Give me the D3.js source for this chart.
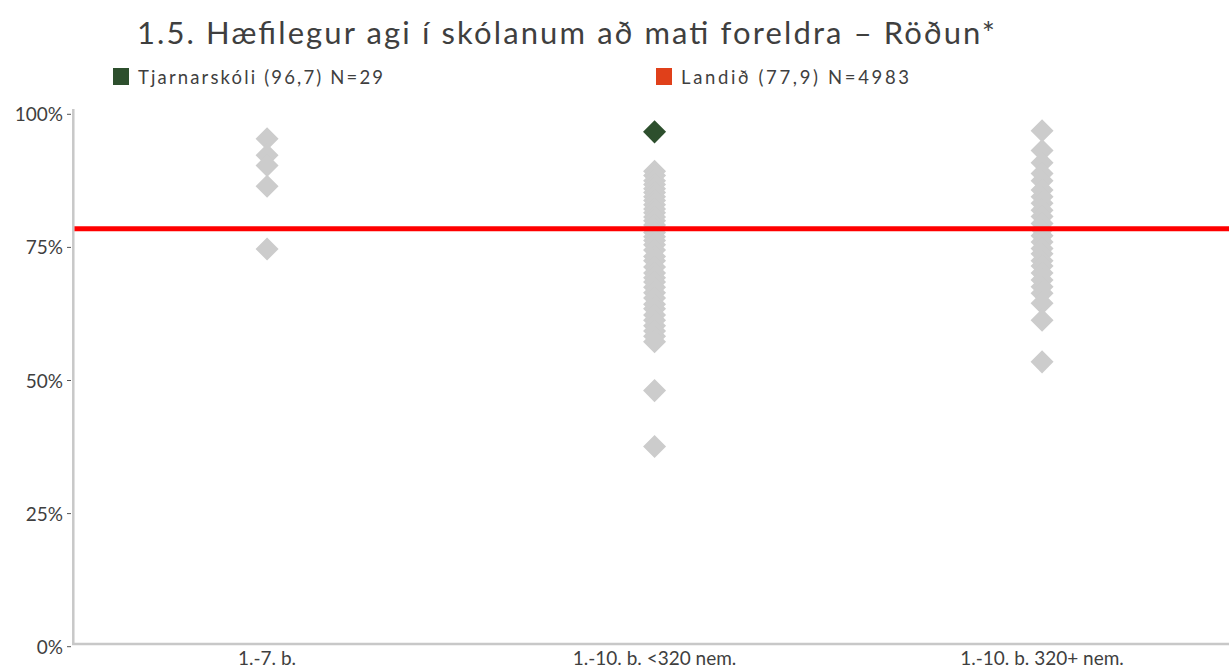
<html>
<head>
<meta charset="utf-8">
<title>1.5 Hæfilegur agi</title>
<script src="https://d3js.org/d3.v7.min.js"></script>
<style>
  body { margin: 0; background: white; }
  text { font-family: Lato, "Open Sans", sans-serif; fill: #3f3f3f; }
  .title { font-size: 31px; }
  .legend text { font-size: 18.5px; }
  .tick-label { font-size: 19px; }
  .cat-label { font-size: 19px; }
</style>
</head>
<body>
<svg id="chart" width="1229" height="670"></svg>
<script>
  // data
  const categories = ["1.-7. b.", "1.-10. b. <320 nem.", "1.-10. b. 320+ nem."];
  const schools17 = [95.4, 92.3, 90.4, 86.5, 74.7];
  const schoolsSmall = [89.3, 88.5, 87.5, 86.8, 86, 85.3, 84.5, 83.8, 83, 82.2, 81.5, 80.7, 80,
    79.2, 78.6, 77.8, 77, 76.3, 75.5, 74.5, 73.3, 72.5, 71.3, 70.2, 69.3, 68.5, 67.5, 66.5,
    65.5, 64.3, 63.5, 62.3, 61.3, 60.3, 59.3, 58.3, 57.3, 48.1, 37.6];
  const schoolsLarge = [96.9, 93.2, 90.9, 88.9, 87.5, 85.8, 84.5, 83.3, 82, 80.8, 79.5, 78.3,
    77.2, 76, 74.8, 73.8, 72.5, 71.5, 70.2, 68.9, 67.6, 66.4, 64.5, 61.3, 53.5];
  const schoolName = "Tjarnarskóli (96,7) N=29";
  const schoolCategory = "1.-10. b. <320 nem.";
  const schoolValue = 96.7;
  const countryName = "Landið (77,9) N=4983";
  const countryLine = 78.5;
  const yTicks = [0, 25, 50, 75, 100];
  const yTickLabels = ["0%", "25%", "50%", "75%", "100%"];

  const svg = d3.select("#chart");
  const width = +svg.attr("width");

  const x = d3.scaleBand().domain(categories).range([73.3, 1235.8]).padding(0);
  const y = d3.scaleLinear().domain([0, 100]).range([646.7, 114.3]);

  svg.append("text").attr("class", "title")
    .attr("x", 137).attr("y", 44)
    .attr("textLength", 858).attr("lengthAdjust", "spacing")
    .text("1.5. Hæfilegur agi í skólanum að mati foreldra – Röðun*");

  // legend
  const legend = svg.append("g").attr("class", "legend");
  const legendItems = [
    { name: schoolName, color: "#2d4f2d", x: 113, tw: 245 },
    { name: countryName, color: "#e0401a", x: 656, tw: 228 }
  ];
  legendItems.forEach(function(d) {
    legend.append("rect").attr("x", d.x).attr("y", 68).attr("width", 16).attr("height", 17)
      .attr("fill", d.color);
    legend.append("text").attr("x", d.x + 25).attr("y", 84)
      .attr("textLength", d.tw).attr("lengthAdjust", "spacing")
      .text(d.name);
  });

  // axes
  svg.append("line").attr("x1", 73.3).attr("x2", 73.3).attr("y1", 109).attr("y2", 645)
    .attr("stroke", "#c8c8c8").attr("stroke-width", 2.5);
  svg.append("line").attr("x1", 72).attr("x2", width).attr("y1", 644).attr("y2", 644)
    .attr("stroke", "#c8c8c8").attr("stroke-width", 2.5);

  const ticks = svg.append("g");
  yTicks.forEach(function(t, i) {
    ticks.append("line").attr("x1", 67).attr("x2", 71).attr("y1", y(t)).attr("y2", y(t))
      .attr("stroke", "#555").attr("stroke-width", 1);
    ticks.append("text").attr("class", "tick-label")
      .attr("x", 63).attr("y", y(t) + 7).attr("text-anchor", "end")
      .text(yTickLabels[i]);
  });

  svg.selectAll("text.cat-label").data(categories).join("text")
    .attr("class", "cat-label")
    .attr("x", d => x(d) + x.bandwidth() / 2)
    .attr("y", 665)
    .attr("text-anchor", "middle")
    .text(d => d);

  // points
  const points = [];
  schools17.forEach(v => points.push({ cat: categories[0], v: v }));
  schoolsSmall.forEach(v => points.push({ cat: categories[1], v: v }));
  schoolsLarge.forEach(v => points.push({ cat: categories[2], v: v }));

  const diamond = d3.symbol().type(d3.symbolSquare).size(265);

  svg.selectAll("path.school").data(points).join("path")
    .attr("class", "school")
    .attr("d", diamond)
    .attr("fill", "#cccccc")
    .attr("transform", d => "translate(" + (x(d.cat) + x.bandwidth() / 2) + "," + y(d.v) + ") rotate(45)");

  svg.append("path")
    .attr("d", diamond)
    .attr("fill", "#2d4f2d")
    .attr("transform", "translate(" + (x(schoolCategory) + x.bandwidth() / 2) + "," + y(schoolValue) + ") rotate(45)");

  // country line
  svg.append("line")
    .attr("x1", 74.5).attr("x2", width)
    .attr("y1", y(countryLine)).attr("y2", y(countryLine))
    .attr("stroke", "#ff0000").attr("stroke-width", 5);
</script>
</body>
</html>
